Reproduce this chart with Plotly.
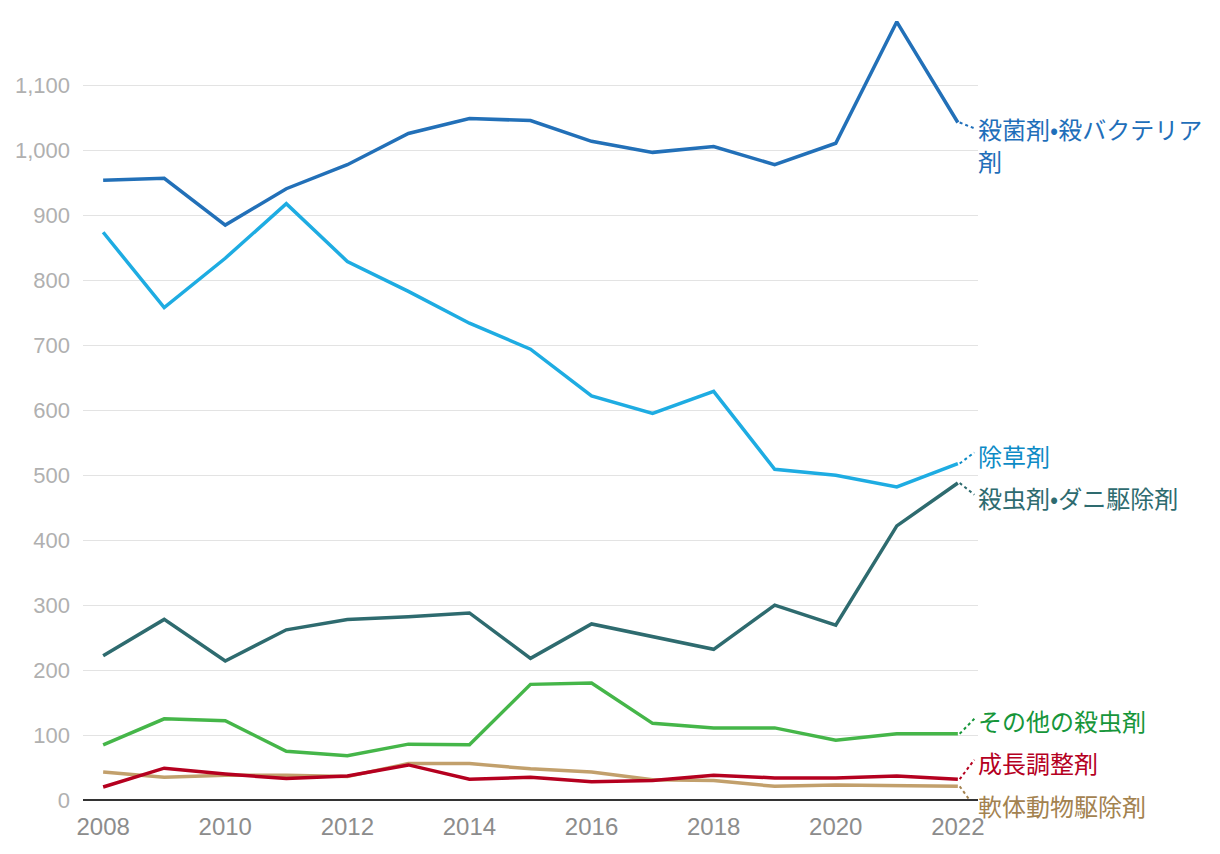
import plotly.graph_objects as go

years = list(range(2008, 2023))

fungicides = [954, 957, 885, 941, 978, 1026, 1049, 1046, 1014, 997, 1006, 978, 1011, 1198, 1043]
herbicides = [874, 758, 834, 918, 829, 783, 734, 694, 622, 595, 629, 509, 500, 482, 518]
insecticides = [222, 278, 214, 262, 278, 282, 288, 218, 271, 252, 232, 300, 269, 422, 488]
other_insecticides = [85, 125, 122, 75, 68, 86, 85, 178, 180, 118, 111, 111, 92, 102, 102]
growth_regulators = [20, 49, 40, 33, 37, 54, 32, 35, 28, 30, 38, 34, 34, 37, 32]
molluscicides = [43, 35, 38, 38, 36, 56, 56, 48, 43, 31, 30, 21, 23, 22, 21]

# label text split into wrapped lines
names = [["殺菌剤•殺バクテリア", "剤"], ["除草剤"], ["殺虫剤•ダニ駆除剤"], ["その他の殺虫剤"], ["成長調整剤"], ["軟体動物駆除剤"]]
series = [fungicides, herbicides, insecticides, other_insecticides, growth_regulators, molluscicides]
line_colors = ["#2270b8", "#1eace2", "#2e6b6f", "#45b649", "#b5001f", "#c2a06c"]
label_colors = ["#1f6fba", "#0d8bc6", "#2e6b6f", "#16963a", "#b5001f", "#a3824f"]

y_max = 1210
# first-line label positions (value units) to avoid overlap, and connector targets
label_y = [1034, 531, 465, 123, 57, -8]
line_step = 49
connector_y = [1034, 535, 470, 125, 62, -10]

y_ticks = list(range(0, 1200, 100))
x_ticks = list(range(2008, 2023, 2))

fig = go.Figure()

order = [5, 4, 3, 2, 1, 0]
for i in order:
    fig.add_trace(go.Scatter(
        x=years, y=series[i], mode="lines",
        line=dict(color=line_colors[i], width=3.5),
        hoverinfo="skip", showlegend=False,
    ))

for i in range(len(series)):
    end = series[i][-1]
    fig.add_trace(go.Scatter(
        x=[2022.03, 2022.27], y=[end, connector_y[i]], mode="lines",
        line=dict(color=label_colors[i], width=2, dash="dot"),
        hoverinfo="skip", showlegend=False, cliponaxis=False,
    ))
    for k, txt in enumerate(names[i]):
        fig.add_annotation(
            x=1.0, y=(label_y[i] - k * line_step) / y_max, xref="paper", yref="paper", xshift=-2,
            text=txt, showarrow=False, xanchor="left", yanchor="middle", align="left",
            font=dict(family="Noto Sans CJK JP", size=24, color=label_colors[i]),
        )

fig.update_layout(
    width=1220, height=854,
    margin=dict(l=75, r=250, t=6, b=62),
    paper_bgcolor="white", plot_bgcolor="white",
    xaxis=dict(
        range=[2007.67, 2022.33], tickvals=x_ticks, ticktext=[str(v) for v in x_ticks],
        showgrid=False, zeroline=False, showline=False, ticks="", ticklabelstandoff=10,
        tickfont=dict(family="Liberation Sans", size=24, color="#8c8c8c"),
    ),
    yaxis=dict(
        range=[0, y_max], tickvals=y_ticks,
        ticktext=[f"{v:,}" for v in y_ticks],
        showgrid=True, gridcolor="#e3e3e3", gridwidth=1,
        zeroline=True, zerolinecolor="#333333", zerolinewidth=2,
        showline=False, ticks="", ticklabelstandoff=12,
        tickfont=dict(family="Liberation Sans", size=22, color="#b0b0b0"),
    ),
)

fig.write_html("out.html")
